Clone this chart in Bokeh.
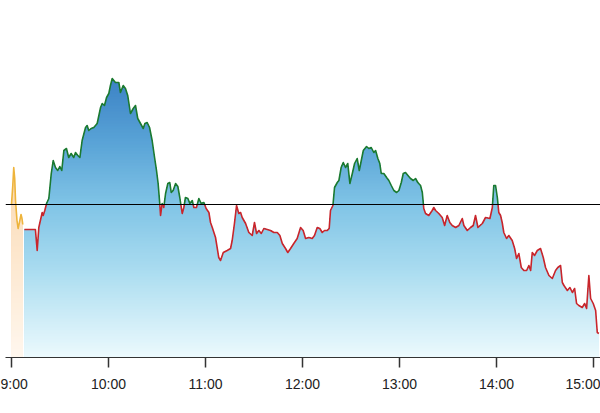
import numpy as np
from bokeh.plotting import figure
from bokeh.models import Range1d, Span, FixedTicker
from bokeh.embed import file_html
from bokeh.resources import INLINE

# ---------------- data (minutes after 9:00, index level) ----------------
prev_close = 2500

pre_times = [0.0, 0.8, 1.4, 2.0, 2.5, 3.4, 4.1, 4.9, 5.9, 6.5, 7.0]
pre_values = [2500, 2519, 2537, 2526, 2504, 2484, 2476, 2482, 2490, 2486, 2480]

times = [
    8.0, 14.8, 15.9, 16.9, 19.0, 19.6, 20.6, 21.7, 23.1, 24.6, 25.8, 27.2, 28.6, 29.9,
    31.1, 32.4, 34.0, 35.4, 36.9, 38.5, 39.6, 41.0, 42.3, 43.7, 45.8, 46.8, 47.8, 49.3,
    50.9, 53.0, 55.1, 56.1, 57.5, 58.8, 60.2, 61.2, 62.3, 64.3, 66.4, 67.4, 69.1, 70.5,
    71.9, 73.6, 75.3, 76.7, 78.1, 79.8, 81.5, 82.5, 83.9, 85.4, 87.0, 88.5, 89.7, 90.7,
    91.7, 92.2, 93.2, 94.2, 95.3, 96.7, 97.9, 98.8, 100.0, 101.5, 102.9, 104.1, 105.6,
    106.6, 107.6, 109.1, 110.3, 111.8, 112.8, 114.4, 115.9, 117.3, 119.0, 120.4, 122.1,
    123.1, 124.2, 126.2, 128.2, 129.3, 131.0, 133.4, 135.5, 136.5, 137.9, 139.2, 140.6,
    141.7, 142.7, 144.8, 146.8, 148.9, 150.3, 151.6, 153.0, 154.5, 156.1, 158.2, 160.2,
    162.3, 164.4, 166.0, 167.5, 169.5, 170.9, 172.6, 174.6, 176.7, 178.8, 180.4, 181.9,
    183.9, 186.0, 187.4, 189.1, 190.7, 192.2, 193.6, 195.3, 196.5, 197.3, 198.8, 199.8,
    201.5, 202.5, 203.9, 205.2, 206.6, 208.0, 209.3, 210.8, 212.2, 213.8, 215.1, 217.6,
    219.6, 221.0, 222.5, 224.1, 225.2, 226.6, 227.8, 228.7, 230.3, 232.0, 233.4, 234.9,
    236.5, 238.2, 239.6, 241.1, 242.3, 243.7, 245.2, 246.8, 248.5, 249.9, 251.3, 253.0,
    254.1, 255.0, 256.1, 258.1, 260.2, 261.2, 262.3, 264.3, 266.4, 267.9, 269.5, 271.1,
    272.6, 274.7, 276.7, 278.8, 279.8, 281.9, 283.9, 285.6, 287.0, 288.5, 291.2, 293.2,
    295.9, 297.4, 298.3, 299.4, 300.5, 301.4, 302.5, 303.5, 304.5, 306.2, 307.6, 309.7,
    311.2, 312.4, 313.8, 315.3, 316.9, 318.6, 320.0, 321.1, 322.1, 323.5, 325.2, 327.2,
    328.9, 330.3, 332.4, 334.5, 336.5, 337.9, 339.6, 340.7, 341.7, 343.8, 345.4, 346.9,
    348.3, 349.5, 350.9, 353.0, 354.5, 355.7, 357.1, 358.2, 359.8, 361.3, 362.3, 363.3,
]
values = [
    2475, 2475, 2454, 2477, 2492, 2489, 2494, 2501, 2506, 2531, 2544, 2537, 2534, 2538,
    2534, 2554, 2556, 2547, 2551, 2547, 2552, 2549, 2547, 2564, 2577, 2579, 2574, 2576,
    2577, 2581, 2597, 2601, 2599, 2607, 2611, 2619, 2626, 2622, 2622, 2612, 2619, 2616,
    2609, 2591, 2596, 2599, 2586, 2581, 2576, 2581, 2582, 2577, 2564, 2547, 2534, 2521,
    2501, 2489, 2501, 2497, 2511, 2521, 2522, 2512, 2514, 2521, 2518, 2507, 2491,
    2497, 2507, 2506, 2501, 2504, 2497, 2497, 2506, 2501, 2502, 2496, 2492,
    2482, 2477, 2467, 2447, 2444, 2452, 2454, 2456, 2464, 2481, 2499, 2491,
    2492, 2487, 2481, 2472, 2469, 2482, 2471, 2474, 2471, 2476, 2475, 2474,
    2472, 2472, 2469, 2461, 2456, 2452, 2456, 2461, 2466, 2477, 2474, 2466,
    2467, 2466, 2469, 2477, 2476, 2472, 2474, 2474, 2476, 2494, 2499, 2517,
    2522, 2524, 2537, 2542, 2537, 2541, 2521, 2531, 2541, 2546, 2534, 2554,
    2558, 2556, 2557, 2552, 2554, 2546, 2541, 2531, 2531, 2527, 2524, 2519,
    2514, 2512, 2514, 2522, 2531, 2532, 2529, 2526, 2524, 2526, 2522, 2519,
    2512, 2496, 2491, 2489, 2494, 2497, 2494, 2491, 2487, 2479, 2489, 2482,
    2479, 2477, 2479, 2486, 2479, 2474, 2477, 2479, 2489, 2477, 2481, 2487,
    2486, 2497, 2519, 2519, 2507, 2492, 2489, 2482, 2472, 2466, 2469, 2464,
    2456, 2446, 2451, 2437, 2434, 2434, 2439, 2434, 2452, 2449, 2454, 2456,
    2447, 2437, 2429, 2426, 2434, 2437, 2439, 2422, 2419, 2414, 2417, 2412,
    2416, 2401, 2399, 2397, 2401, 2396, 2429, 2406, 2401, 2394, 2372, 2371,
]

tick_minutes = [0, 60, 120, 180, 240, 300, 360]
tick_labels = ["9:00", "10:00", "11:00", "12:00", "13:00", "14:00", "15:00"]

# ---------------- figure ----------------
Y_BOTTOM = 2347
p = figure(width=600, height=413, output_backend="svg", toolbar_location=None,
           x_range=Range1d(-3.7, 364.3), y_range=Range1d(Y_BOTTOM, 2704),
           min_border=0, min_border_left=5, min_border_bottom=56)
p.outline_line_color = None
p.background_fill_color = "white"
p.border_fill_color = "white"
p.grid.visible = False
p.yaxis.visible = False

t = np.array(times, dtype=float)
v = np.array(values, dtype=float)
pt = np.array(pre_times, dtype=float)
pv = np.array(pre_values, dtype=float)


def hex2rgb(h):
    h = h.lstrip("#")
    return [int(h[i:i + 2], 16) for i in (0, 2, 4)]


def make_grad(stops):
    sv = np.array([s[0] for s in stops], dtype=float)
    sc = np.array([hex2rgb(s[1]) for s in stops], dtype=float)

    def f(val):
        rgb = [int(round(np.interp(val, sv, sc[:, k]))) for k in range(3)]
        return "#%02x%02x%02x" % tuple(rgb)
    return f


blue = make_grad([(2347, "#ecfafd"), (2434, "#aadcf0"), (2500, "#80c4e6"),
                  (2564, "#58a2d6"), (2630, "#3a80c4")])
peach = make_grad([(2347, "#fff7ee"), (2480, "#fce2c4"), (2540, "#fbd6a8")])


def gradient_area(xs, ys, cfun, step=3.0):
    levels = np.arange(Y_BOTTOM + step, ys.max() + step, step)
    for L in levels[::-1]:
        p.varea(x=xs, y1=Y_BOTTOM, y2=np.minimum(ys, L),
                fill_color=cfun(L - step / 2), fill_alpha=1.0)


gradient_area(pt, pv, peach)
gradient_area(t, v, blue)

# baseline (previous close)
p.add_layout(Span(location=prev_close, dimension="width", line_color="black",
                  line_width=1.2))


def split_by_side(xs, ys, base):
    ups, downs = [], []
    cx, cy = [xs[0]], [ys[0]]
    cur_up = ys[0] > base
    for i in range(1, len(xs)):
        up = ys[i] > base
        if up != cur_up:
            frac = (base - ys[i - 1]) / (ys[i] - ys[i - 1])
            xc = xs[i - 1] + frac * (xs[i] - xs[i - 1])
            cx.append(xc)
            cy.append(base)
            (ups if cur_up else downs).append((cx, cy))
            cx, cy = [xc], [base]
            cur_up = up
        cx.append(xs[i])
        cy.append(ys[i])
    (ups if cur_up else downs).append((cx, cy))
    return ups, downs


ups, downs = split_by_side(list(t), list(v), prev_close)
p.multi_line(xs=[u[0] for u in ups], ys=[u[1] for u in ups],
             line_color="#1b7a30", line_width=1.6, line_join="round")
p.multi_line(xs=[d[0] for d in downs], ys=[d[1] for d in downs],
             line_color="#c9252b", line_width=1.6, line_join="round")
p.line(pt, pv, line_color="#eeb43c", line_width=1.6, line_join="round")

# x axis
ax = p.xaxis[0]
ax.ticker = FixedTicker(ticks=tick_minutes)
ax.major_label_overrides = {m: lab for m, lab in zip(tick_minutes, tick_labels)}
ax.minor_tick_line_color = None
ax.major_tick_in = 0
ax.major_tick_out = 10
ax.major_tick_line_color = "#333333"
ax.major_tick_line_width = 1.5
ax.axis_line_color = "#333333"
ax.axis_line_width = 1.2
ax.major_label_standoff = 8
ax.major_label_text_font = "Liberation Sans"
ax.major_label_text_font_size = "14px"
ax.major_label_text_color = "#222222"

open("out.html", "w").write(file_html(p, INLINE))
